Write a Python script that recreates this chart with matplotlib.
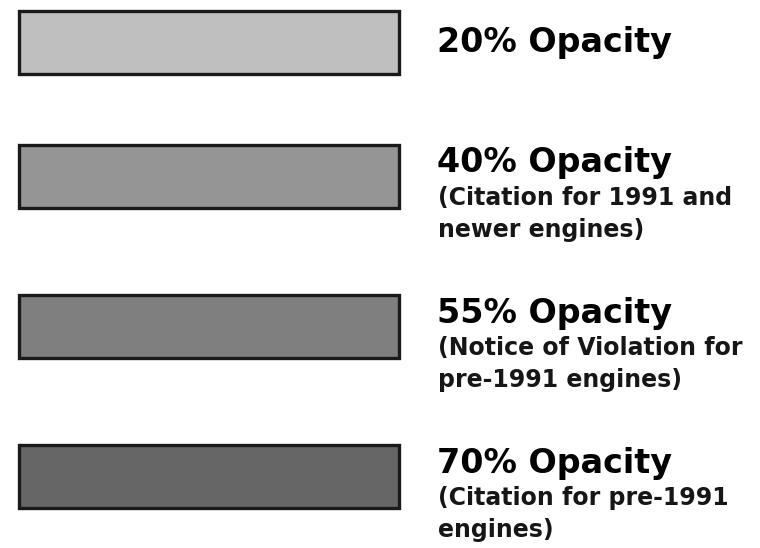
import matplotlib
matplotlib.use("Agg")
import matplotlib.pyplot as plt

# opacity levels and their notes
levels = [20, 40, 55, 70]
notes = [
    "",
    "(Citation for 1991 and\nnewer engines)",
    "(Notice of Violation for\npre-1991 engines)",
    "(Citation for pre-1991\nengines)",
]
fills = ["#bfbfbf", "#959595", "#7f7f7f", "#666666"]

bar_y = [42.5, 176, 326.5, 476.5]

fig = plt.figure(figsize=(7.6, 5.48), dpi=100)
ax = fig.add_axes([0, 0, 1, 1])
ax.set_xlim(0, 760)
ax.set_ylim(548, 0)
ax.axis("off")

ax.barh(bar_y, [380] * len(levels), left=19, height=63,
        color=fills, edgecolor="#1a1a1a", linewidth=2.4)

font = "DejaVu Sans"
for y, lvl, note in zip(bar_y, levels, notes):
    base = y + 9.5 if not note else y - 4
    ax.text(437, base, f"{lvl}% Opacity", fontsize=24, fontweight="bold",
            family=font, va="baseline", ha="left", color="#000000")
    for i, line in enumerate(note.split("\n") if note else []):
        ax.text(438, base + 33 + 32 * i, line, fontsize=17, fontweight="bold",
                family=font, va="baseline", ha="left", color="#161616")

fig.savefig("out.png", dpi=100)
